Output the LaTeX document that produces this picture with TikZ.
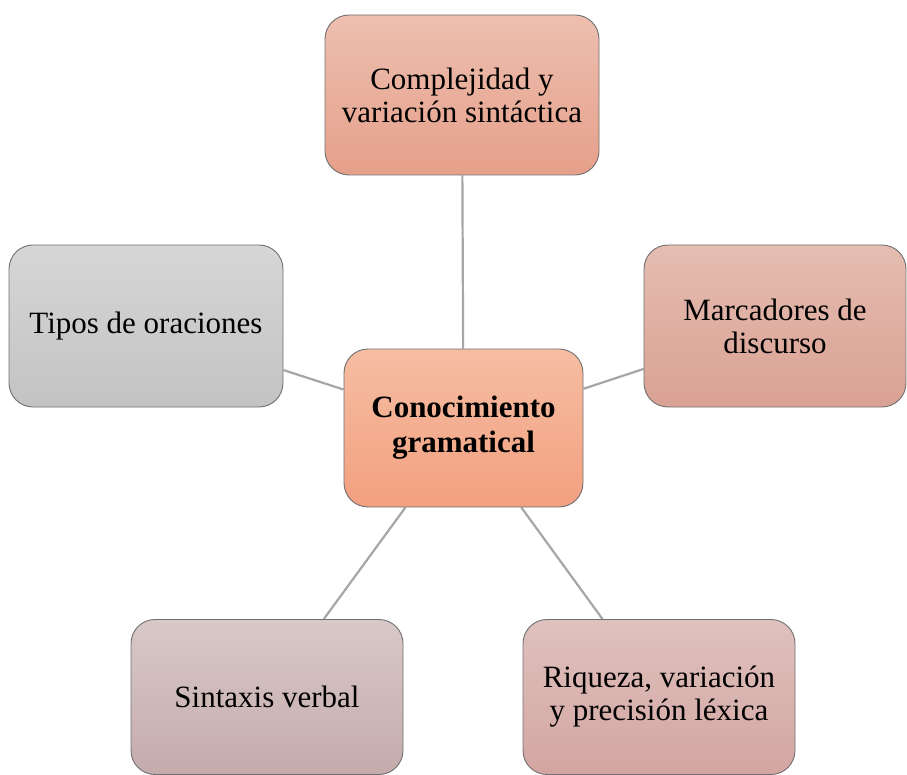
\documentclass[tikz,border=0pt]{standalone}
\usepackage{fontspec}
\setmainfont{Liberation Serif}
\usetikzlibrary{backgrounds}
\definecolor{edgegray}{HTML}{A6A6A6}
\definecolor{bordergray}{HTML}{707070}
\definecolor{cTop}{HTML}{F6BDA3}\definecolor{cBot}{HTML}{F2A07F}
\definecolor{tTop}{HTML}{EDBFAF}\definecolor{tBot}{HTML}{E6A08B}
\definecolor{lTop}{HTML}{D6D6D6}\definecolor{lBot}{HTML}{C3C3C3}
\definecolor{rTop}{HTML}{E5BDB1}\definecolor{rBot}{HTML}{D9A193}
\definecolor{blTop}{HTML}{D8C8C8}\definecolor{blBot}{HTML}{C5ABAB}
\definecolor{brTop}{HTML}{DFC1BE}\definecolor{brBot}{HTML}{D3A5A1}
\tikzset{
  box/.style={draw=bordergray, line width=0.9pt, rounded corners=24pt, align=center,
    inner sep=0pt, font=\fontsize{31}{33}\selectfont, text=black},
  link/.style={draw=edgegray, line width=2.2pt},
}
\begin{document}
\begin{tikzpicture}[x=1pt,y=-1pt]
\useasboundingbox (0,0) rectangle (907,775);
\node[box, minimum width=239pt, minimum height=158pt, top color=cTop, bottom color=cBot,
  font=\fontsize{31}{35}\selectfont\bfseries]
  (c) at (463.5,428) {Conocimiento\\gramatical};
\node[box, minimum width=274pt, minimum height=160pt, top color=tTop, bottom color=tBot]
  (t) at (462,95) {Complejidad y\\variación sintáctica};
\node[box, minimum width=274pt, minimum height=162pt, top color=lTop, bottom color=lBot]
  (l) at (146,326) {Tipos de oraciones};
\node[box, minimum width=262pt, minimum height=162pt, top color=rTop, bottom color=rBot]
  (r) at (775,326) {Marcadores de\\discurso};
\node[box, minimum width=272pt, minimum height=155pt, top color=blTop, bottom color=blBot]
  (bl) at (267,697) {Sintaxis verbal};
\node[box, minimum width=272pt, minimum height=155pt, top color=brTop, bottom color=brBot]
  (br) at (659,697) {Riqueza, variación\\y precisión léxica};
\begin{scope}[on background layer]
\draw[link] (c) -- (t);
\draw[link] (c) -- (l);
\draw[link] (c) -- (r);
\draw[link] (c) -- (bl);
\draw[link] (c) -- (br);
\end{scope}
\end{tikzpicture}
\end{document}
